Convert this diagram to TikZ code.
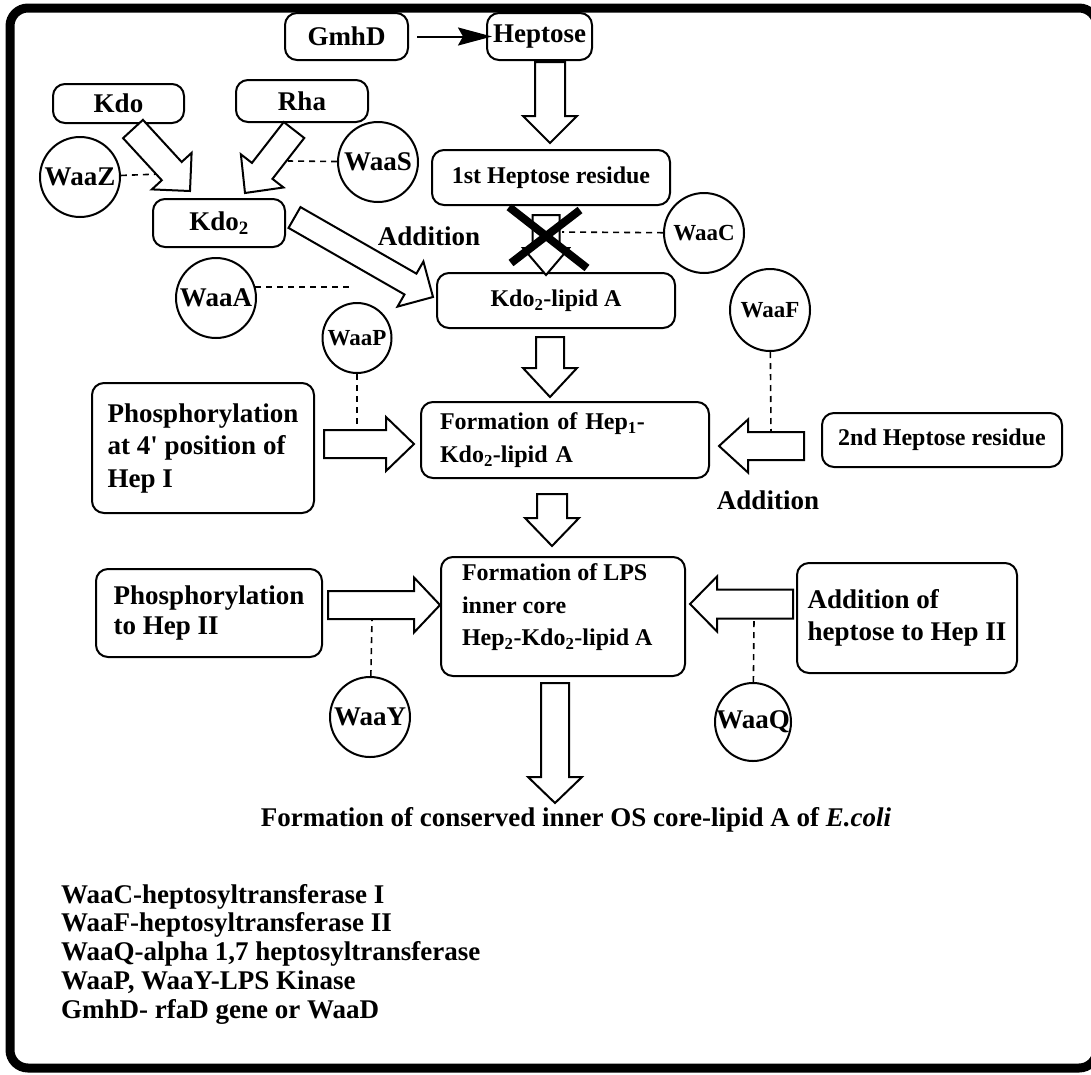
\documentclass[tikz,border=0pt]{standalone}
\usepackage{fontspec}
\setmainfont{Liberation Serif}
\usetikzlibrary{calc,shapes.geometric,arrows.meta}
\newcommand\fntA{\bfseries\fontsize{27}{32}\selectfont}
\newcommand\fntB{\bfseries\fontsize{24}{33}\selectfont}
\newcommand\fntC{\bfseries\fontsize{23}{28}\selectfont}
\newcommand\zw[1]{\makebox[0pt]{#1}}
\newcommand\fatarw[5]{%
  \coordinate (fah) at ($(#2)!#5pt!(#1)$);
  \draw[fatarr] ($(#1)!#3pt!90:(#2)$) -- ($(fah)!#3pt!90:(#2)$) -- ($(fah)!#4pt!90:(#2)$) -- (#2) -- ($(fah)!#4pt!-90:(#2)$) -- ($(fah)!#3pt!-90:(#2)$) -- ($(#1)!#3pt!-90:(#2)$) -- cycle;}
\tikzset{
  box/.style={draw, line width=2pt, rounded corners=12pt, inner sep=0pt, font=\fntA},
  enz/.style={draw, ellipse, line width=2pt, inner sep=0pt, font=\fntA},
  dashline/.style={dash pattern=on 6pt off 5pt, line width=1.6pt},
  fatarr/.style={draw, fill=white, line width=2pt, line join=miter},
}
\begin{document}
\begin{tikzpicture}[x=1pt,y=-1pt]
\useasboundingbox (0,0) rectangle (1091,1074);
\clip (0,0) rectangle (1091,1074);
\fill[white] (0,0) rectangle (1091,1074);
% outer frame
\draw[line width=9pt, rounded corners=18pt] (10,8) rectangle (1097,1068);

% boxes
\node[box, minimum width=123pt, minimum height=47pt] (gmhd) at (346.5,36.5) {GmhD};
\node[box, minimum width=105pt, minimum height=47pt] (hept) at (539.5,36.5) {Heptose};
\node[box, minimum width=131pt, minimum height=39pt] (kdo) at (118.5,103.5) {Kdo};
\node[box, minimum width=132pt, minimum height=42pt] (rha) at (302,101) {Rha};
\node[box, minimum width=132pt, minimum height=48pt] (kdoii) at (219,223) {Kdo\textsubscript{2}};
\node[box, font=\fntB, minimum width=238pt, minimum height=55pt] (hi) at (551,177.5) {1st Heptose residue};
\node[box, font=\fntB, minimum width=238pt, minimum height=55pt] (kla) at (556,300.5) {Kdo\textsubscript{2}-lipid A};
\node[box, font=\bfseries\fontsize{27}{32.5}\selectfont, align=left, minimum width=222pt, minimum height=130pt] (phosi) at (203,448) {Phosphorylation\\at 4\textquotesingle{} position of\\Hep I};
\node[box, font=\fntB, align=left, text width=250pt, inner xsep=19pt, minimum height=76pt] (hepi) at (565,440) {Formation of Hep\textsubscript{1}-\\Kdo\textsubscript{2}-lipid A};
\node[box, font=\fntB, minimum width=240pt, minimum height=54pt] (hii) at (942,440) {2nd Heptose residue};
\node[box] (lps) at (563,616.5) {\parbox[c][119pt][t]{244pt}{\leftskip=21pt\fntB\baselineskip=32.5pt\vspace*{7pt}Formation of LPS\\inner core\\Hep\textsubscript{2}-Kdo\textsubscript{2}-lipid A}};
\node[box, font=\bfseries\fontsize{27}{30}\selectfont, align=left, minimum width=226pt, minimum height=88pt] (phosii) at (209,613) {Phosphorylation\\to Hep II};
\node[box, font=\bfseries\fontsize{27}{32}\selectfont, align=left, minimum width=220pt, minimum height=110pt] (addii) at (907,618) {Addition of\\heptose to Hep II};

% enzymes
\node[enz, minimum width=80pt, minimum height=80pt] (waaz) at (80,177) {\zw{WaaZ}};
\node[enz, minimum width=80pt, minimum height=80pt] (waas) at (378,162) {\zw{WaaS}};
\node[enz, minimum width=80pt, minimum height=80pt] (waaa) at (216,298) {\zw{WaaA}};
\node[enz, font=\fntC, minimum width=69pt, minimum height=70pt] (waap) at (357,338) {\zw{WaaP}};
\node[enz, font=\fntC, minimum width=80pt, minimum height=80pt] (waac) at (704,233) {\zw{WaaC}};
\node[enz, font=\fntC, minimum width=80pt, minimum height=82pt] (waaf) at (770,310) {\zw{WaaF}};
\node[enz, minimum width=80pt, minimum height=80pt] (waay) at (370,717) {\zw{WaaY}};
\node[enz, minimum width=76pt, minimum height=78pt] (waaq) at (753,722) {\zw{WaaQ}};

% dashed enzyme links
\coordinate (dz) at (160,174);
\coordinate (ds) at (288,161);
\coordinate (da) at (350,287);
\coordinate (dc) at (562,232);
\coordinate (dp) at (357,431);
\coordinate (df) at (771,432);
\coordinate (dy) at (372,619);
\coordinate (dq) at (754,619);
\draw[dashline] (waaz) -- (dz);
\draw[dashline] (waas) -- (ds);
\draw[dashline] (waaa.16) -- (waaa.16 -| da);
\draw[dashline] (waac) -- (dc);
\draw[dashline] (waap) -- (dp);
\draw[dashline] (waaf) -- (df);
\draw[dashline] (waay) -- (dy);
\draw[dashline] (waaq) -- (dq);

% thin arrow
\draw[line width=2pt, shorten <=8pt, shorten >=-6pt, -{Stealth[length=34pt,width=18pt,inset=5pt]}] (gmhd) -- (hept);

% fat arrows
\coordinate (ahs) at (550,62);    \coordinate (ahe) at (550,143);
\coordinate (aks) at (133,129);   \coordinate (ake) at (190,191);
\coordinate (ars) at (294,130);   \coordinate (are) at (245,193);
\coordinate (ads) at (294.5,217.5); \coordinate (ade) at (433,297);
\coordinate (axs) at (546,215);   \coordinate (axe) at (546,275);
\coordinate (als) at (550,337);   \coordinate (ale) at (550,397);
\coordinate (aps) at (324,444);   \coordinate (ape) at (414,444);
\coordinate (a2s) at (804,446);   \coordinate (a2e) at (719,446);
\coordinate (afs) at (552,494);   \coordinate (afe) at (552,546);
\coordinate (aqs) at (328,605);   \coordinate (aqe) at (440,605);
\coordinate (abs) at (793,604);   \coordinate (abe) at (690,604);
\coordinate (ams) at (555,683);   \coordinate (ame) at (555,803);
\fatarw{ahs}{ahe}{15}{27}{27}
\fatarw{aks}{ake}{13.5}{27}{27}
\fatarw{ars}{are}{13}{27}{28}
\fatarw{ads}{ade}{12}{26}{26}
\fatarw{axs}{axe}{13.5}{23}{27}
\fatarw{als}{ale}{14}{27}{29}
\fatarw{aps}{ape}{14}{27}{28}
\fatarw{a2s}{a2e}{14}{26.5}{29}
\fatarw{afs}{afe}{15}{27}{28}
\fatarw{aqs}{aqe}{14}{27.5}{26}
\fatarw{abs}{abe}{14.5}{27.5}{27}
\fatarw{ams}{ame}{14}{27}{26}

% cross over the blocked step
\draw[line width=8pt] (509,207) -- (587,268);
\draw[line width=8pt] (580,210) -- (511,263);

% labels
\node[font=\fntA] (addi) at (429,236) {Addition};
\node[font=\fntA] (addl) at (768,500) {Addition};
\node[font=\fntA] (final) at (576,820) {Formation of conserved inner OS core-lipid A of \textit{E.coli}};
\node[anchor=north west, align=left, inner sep=0pt, font=\bfseries\fontsize{27}{28.75}\selectfont] (legend) at (61,884) {WaaC-heptosyltransferase I\\WaaF-heptosyltransferase II\\WaaQ-alpha 1,7 heptosyltransferase\\WaaP, WaaY-LPS Kinase\\GmhD- rfaD gene or WaaD};
\end{tikzpicture}
\end{document}
